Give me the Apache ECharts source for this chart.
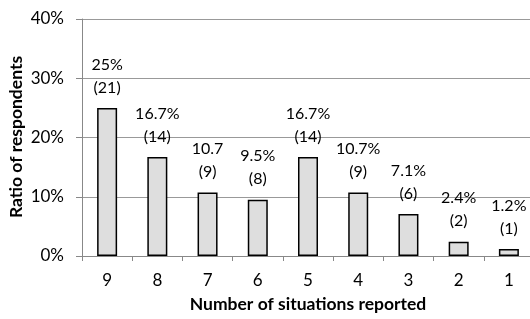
<!DOCTYPE html>
<html>
<head>
<meta charset="utf-8">
<script src="https://cdn.jsdelivr.net/npm/echarts@6/dist/echarts.min.js"></script>
<style>
  html, body { margin: 0; padding: 0; background: #fff; }
  #chart { width: 530px; height: 319px; }
</style>
</head>
<body>
<div id="chart"></div>
<script>
// situations reported, left to right
const categories = ['9', '8', '7', '6', '5', '4', '3', '2', '1']
// ratio of respondents (%)
const ratios = [25, 16.7, 10.7, 9.5, 16.7, 10.7, 7.1, 2.4, 1.2]
// respondent counts
const counts = [21, 14, 9, 8, 14, 9, 6, 2, 1]
// percent text as printed above each bar
const ratioLabels = ['25%', '16.7%', '10.7', '9.5%', '16.7%', '10.7%', '7.1%', '2.4%', '1.2%']

const font = 'Lato, "Liberation Sans", sans-serif'
const chart = echarts.init(document.getElementById('chart'))

chart.setOption({
  animation: false,
  textStyle: { fontFamily: font },
  grid: {
    left: 82,
    right: -4,
    top: 19,
    bottom: 63,
    containLabel: false,
    outerBoundsMode: 'none'
  },
  // y axis title, placed by hand (axis name kept getting pushed left)
  graphic: [{
    type: 'text',
    x: 16,
    y: 137,
    rotation: Math.PI / 2,
    style: {
      text: 'Ratio of respondents',
      font: 'bold 17.5px ' + font,
      fill: '#000',
      textAlign: 'center',
      textVerticalAlign: 'middle'
    }
  }],
  xAxis: {
    type: 'category',
    data: categories,
    z: 5,
    name: 'Number of situations reported',
    nameLocation: 'middle',
    nameGap: 39,
    nameTextStyle: { fontFamily: font, fontSize: 17.5, fontWeight: 'bold', color: '#000' },
    axisLine: { lineStyle: { color: '#888', width: 1 } },
    axisTick: { show: true, length: 5, lineStyle: { color: '#888' } },
    axisLabel: { fontFamily: font, fontSize: 17, color: '#000', margin: 16 }
  },
  yAxis: {
    type: 'value',
    min: 0,
    max: 40,
    interval: 10,
    axisLine: { show: true, lineStyle: { color: '#888', width: 1 } },
    axisTick: { show: true, length: 6, lineStyle: { color: '#888' } },
    axisLabel: { fontFamily: font, fontSize: 17, color: '#000', margin: 18, formatter: '{value}%' },
    splitLine: { lineStyle: { color: '#999', width: 1 } }
  },
  series: [{
    type: 'bar',
    data: ratios,
    barWidth: 20,
    itemStyle: { color: '#dedede', borderColor: '#000', borderWidth: 1.5 },
    label: {
      show: true,
      position: 'top',
      distance: 9,
      fontFamily: font,
      fontSize: 16,
      lineHeight: 23,
      color: '#000',
      formatter: p => ratioLabels[p.dataIndex] + '\n(' + counts[p.dataIndex] + ')'
    }
  }]
})
</script>
</body>
</html>
